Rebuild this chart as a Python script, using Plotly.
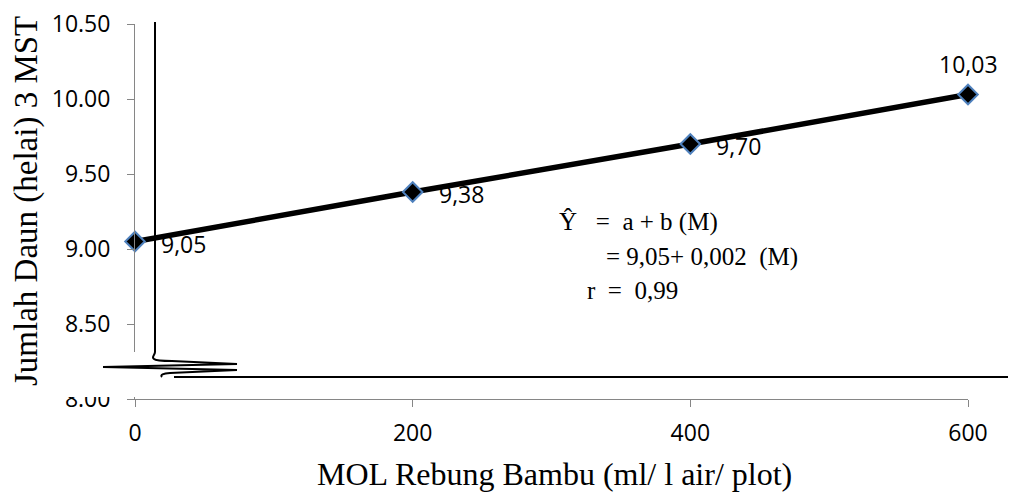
import plotly.graph_objects as go

# ---- data ----
mol_dose = [0, 200, 400, 600]
leaf_count = [9.05, 9.38, 9.70, 10.03]
point_labels = ["9,05", "9,38", "9,70", "10,03"]
y_tick_vals = [8.0, 8.5, 9.0, 9.5, 10.0, 10.5]
y_tick_text = ["8.00", "8.50", "9.00", "9.50", "10.00", "10.50"]
x_tick_vals = [0, 200, 400, 600]
x_tick_text = ["0", "200", "400", "600"]
equation_lines = ["Ŷ&nbsp;&nbsp;&nbsp;=&nbsp;&nbsp;a + b (M)",
                  "= 9,05+ 0,002&nbsp;&nbsp;(M)",
                  "r&nbsp;&nbsp;=&nbsp;&nbsp;0,99"]

W, H = 1011, 493
L, R, T, B = 135, 43, 24, 94
PW, PH = W - L - R, H - T - B


def fx(px):
    return (px - L) / PW


def fy(py):
    return (H - B - py) / PH


def path(points, cmds):
    s = ""
    for c, pts in zip(cmds, points):
        s += c + " " + ", ".join(f"{fx(a):.5f},{fy(b):.5f}" for a, b in pts) + " "
    return s.strip()


AX = "#868686"
NUM_FONT = dict(family="Open Sans, Liberation Sans, sans-serif", size=23, color="#000000")
SERIF = "Liberation Serif, Times New Roman, serif"

fig = go.Figure()
fig.add_trace(go.Scatter(
    x=mol_dose, y=leaf_count, mode="lines+markers",
    line=dict(color="#000000", width=5.5),
    marker=dict(symbol="diamond", size=15, color="#000000",
                line=dict(color="#4F81BD", width=2)),
    cliponaxis=False, showlegend=False, hoverinfo="x+y"))

annotations = []
for i, (xv, yv, lab) in enumerate(zip(mol_dose, leaf_count, point_labels)):
    if i == len(mol_dose) - 1:
        annotations.append(dict(x=xv, y=yv, xref="x", yref="y", text=lab,
                                showarrow=False, xanchor="center", yanchor="middle",
                                yshift=31, font=NUM_FONT))
    else:
        annotations.append(dict(x=xv, y=yv, xref="x", yref="y", text=lab,
                                showarrow=False, xanchor="left", yanchor="middle",
                                xshift=24, yshift=-2, font=NUM_FONT))

eq_pos = [(557, 222), (604, 257), (585, 290)]
for txt, (px, py) in zip(equation_lines, eq_pos):
    annotations.append(dict(x=fx(px), y=fy(py), xref="paper", yref="paper", text=txt,
                            showarrow=False, xanchor="left", yanchor="middle",
                            font=dict(family=SERIF, size=25, color="#000000")))

annotations.append(dict(x=fx(554), y=fy(474), xref="paper", yref="paper",
                        text="MOL Rebung Bambu (ml/ l air/ plot)", showarrow=False,
                        xanchor="center", yanchor="middle",
                        font=dict(family=SERIF, size=32, color="#000000")))
annotations.append(dict(x=fx(26), y=fy(201), xref="paper", yref="paper",
                        text="Jumlah Daun (helai) 3 MST", showarrow=False, textangle=-90,
                        xanchor="center", yanchor="middle",
                        font=dict(family=SERIF, size=33, color="#000000")))

shapes = [
    # white cover box (axis break area)
    dict(type="rect", xref="paper", yref="paper", x0=fx(45), x1=fx(1011),
         y0=fy(397), y1=fy(352), fillcolor="#FFFFFF", line=dict(width=0), layer="above"),
    # hand-drawn break line
    dict(type="path", xref="paper", yref="paper", layer="above",
         path=path([[(155, 22)], [(155, 352)],
                    [(155, 355), (151, 357), (154, 359)],
                    [(156, 361), (162, 361), (172, 361)],
                    [(237, 364)], [(103, 367)], [(237, 370)], [(170, 373)],
                    [(163, 373.5), (160, 375), (162, 377)]],
                   ["M", "L", "C", "C", "L", "L", "L", "L", "C"]),
         line=dict(color="#000000", width=2)),
    dict(type="line", xref="paper", yref="paper", layer="above",
         x0=fx(174), x1=fx(1008), y0=fy(377), y1=fy(377),
         line=dict(color="#000000", width=2)),
]

fig.update_layout(
    width=W, height=H, margin=dict(l=L, r=R, t=T, b=B, autoexpand=False),
    paper_bgcolor="#FFFFFF", plot_bgcolor="#FFFFFF",
    xaxis=dict(range=[0, 600], tickvals=x_tick_vals, ticktext=x_tick_text,
               showgrid=False, zeroline=False, showline=True, linecolor=AX, linewidth=1,
               ticks="outside", ticklen=7, tickcolor=AX, tickwidth=1,
               tickfont=NUM_FONT, ticklabelstandoff=6),
    yaxis=dict(range=[8.0, 10.5], tickvals=y_tick_vals, ticktext=y_tick_text,
               showgrid=False, zeroline=False, showline=True, linecolor=AX, linewidth=1,
               ticks="outside", ticklen=7, tickcolor=AX, tickwidth=1,
               tickfont=NUM_FONT, ticklabelstandoff=12),
    annotations=annotations, shapes=shapes,
)

fig.write_html("out.html")
